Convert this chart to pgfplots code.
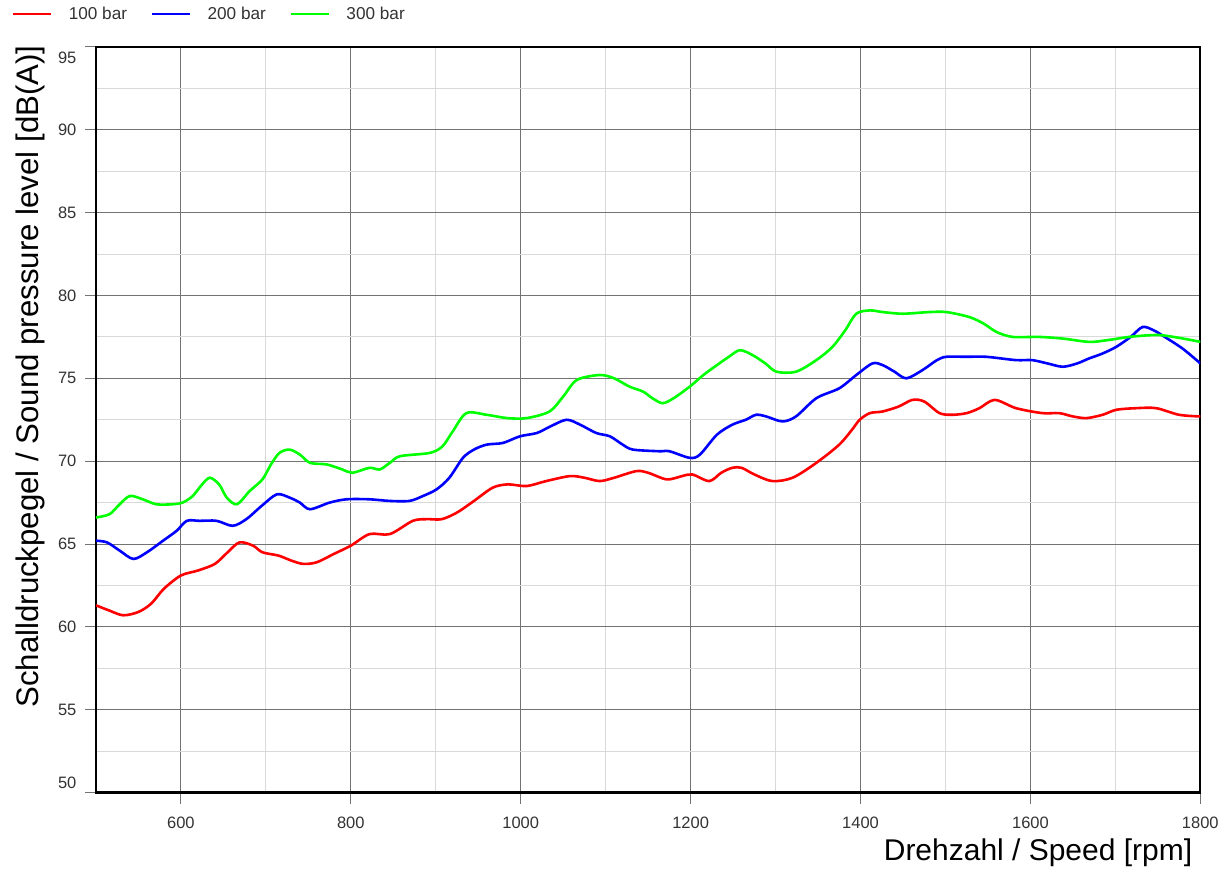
\documentclass[border=0pt]{standalone}
\usepackage{fontspec}
\setmainfont{Liberation Sans}
\usepackage{pgfplots}
\pgfplotsset{compat=1.18}
\begin{document}
\begin{tikzpicture}
\path (-96pt,-76pt) rectangle (1126pt,793pt);
\begin{axis}[
 name=ax, at={(0,0)}, anchor=south west,
 scale only axis, width=1105pt, height=746pt,
 xmin=500, xmax=1800, ymin=50, ymax=95,
 xtick={600,800,...,1800},
 minor xtick={700,900,...,1700},
 ytick={50,55,...,95},
 minor ytick={52.5,57.5,...,92.5},
 yticklabels={\raisebox{10pt}[\height][\depth]{50},55,60,65,70,75,80,85,90,\raisebox{-11pt}[\height][\depth]{95}},
 grid=both,
 major grid style={black!55, line width=1pt},
 minor grid style={black!15, line width=1pt},
 axis line style={line width=2.2pt, black},
 tick pos=left, tick align=outside, major tick length=11pt, minor tick length=0pt,
 major tick style={black!55, line width=1pt},
 /pgf/number format/assume math mode=true,
 /pgf/number format/1000 sep={},
 ticklabel style={font=\fontsize{16.5}{18}\selectfont, text=black!80},
 xticklabel style={yshift=-10pt},
 yticklabel style={xshift=-5pt},
 xlabel={Drehzahl / Speed [rpm]},
 ylabel={Schalldruckpegel / Sound pressure level [dB(A)]},
 xlabel style={font=\fontsize{30}{34}\selectfont, at={(axis description cs:0.9928,0)}, anchor=base east, yshift=-68pt, inner sep=0pt},
 ylabel style={font=\fontsize{31.2}{35}\selectfont, at={(axis description cs:-0.0597,0.558)}, anchor=center, inner sep=0pt},
 legend columns=3,
 legend style={draw=none, fill=none, at={(0,1)}, anchor=west, xshift=-84pt, yshift=33pt, inner sep=0pt,
   font=\fontsize{17.2}{20}\selectfont, nodes={inner sep=0pt, text=black!80},
   /tikz/every odd column/.style={column sep=17pt},
   /tikz/every even column/.style={column sep=24pt}},
 legend image code/.code={\draw[#1, line width=1.6pt] (0pt,0pt) -- (38pt,0pt);},
 every axis plot/.append style={line width=2.6pt, smooth, tension=0.5},
]
\addplot[red] coordinates {
(500,61.3)(515,61.0)(532,60.7)(550,60.9)(565,61.4)(580,62.3)(600,63.1)(620,63.4)(640,63.8)(655,64.5)(669,65.1)(685,64.9)(696,64.5)(715,64.3)(730,64.0)(744,63.8)(760,63.9)(780,64.4)(800,64.9)(822,65.6)(846,65.6)(873,66.4)(890,66.5)(907,66.5)(925,66.9)(945,67.6)(967,68.4)(985,68.6)(1007,68.5)(1030,68.8)(1058,69.1)(1075,69.0)(1093,68.8)(1110,69.0)(1136,69.4)(1150,69.3)(1172,68.9)(1190,69.1)(1202,69.2)(1222,68.8)(1236,69.3)(1249,69.6)(1260,69.6)(1275,69.2)(1296,68.8)(1320,69.0)(1348,69.9)(1375,71.0)(1390,71.9)(1399,72.5)(1411,72.9)(1426,73.0)(1445,73.3)(1461,73.7)(1475,73.6)(1493,72.9)(1508,72.8)(1525,72.9)(1540,73.2)(1558,73.7)(1583,73.2)(1614,72.9)(1634,72.9)(1650,72.7)(1666,72.6)(1685,72.8)(1701,73.1)(1725,73.2)(1748,73.2)(1775,72.8)(1800,72.7)
};
\addlegendentry{100 bar}
\addplot[blue] coordinates {
(500,65.2)(513,65.1)(528,64.6)(544,64.1)(560,64.5)(579,65.2)(595,65.8)(607,66.4)(622,66.4)(642,66.4)(661,66.1)(677,66.5)(695,67.3)(713,68.0)(728,67.8)(740,67.5)(752,67.1)(775,67.5)(795,67.7)(822,67.7)(846,67.6)(869,67.6)(885,67.9)(901,68.3)(916,69.0)(932,70.2)(945,70.7)(960,71.0)(979,71.1)(999,71.5)(1019,71.7)(1035,72.1)(1054,72.5)(1070,72.2)(1089,71.7)(1105,71.5)(1120,71.0)(1132,70.7)(1163,70.6)(1175,70.6)(1199,70.2)(1211,70.4)(1231,71.6)(1249,72.2)(1265,72.5)(1277,72.8)(1289,72.7)(1308,72.4)(1324,72.7)(1348,73.8)(1375,74.4)(1395,75.2)(1414,75.9)(1426,75.8)(1440,75.4)(1454,75.0)(1473,75.5)(1490,76.1)(1501,76.3)(1525,76.3)(1548,76.3)(1583,76.1)(1602,76.1)(1620,75.9)(1638,75.7)(1655,75.9)(1669,76.2)(1685,76.5)(1701,76.9)(1718,77.5)(1732,78.1)(1745,77.9)(1755,77.6)(1779,76.8)(1800,75.9)
};
\addlegendentry{200 bar}
\addplot[green] coordinates {
(500,66.6)(516,66.8)(528,67.4)(540,67.9)(555,67.7)(571,67.4)(590,67.4)(602,67.5)(614,67.9)(625,68.6)(634,69.0)(645,68.6)(654,67.8)(666,67.4)(681,68.2)(696,68.9)(706,69.8)(716,70.5)(728,70.7)(740,70.4)(752,69.9)(772,69.8)(790,69.5)(802,69.3)(822,69.6)(834,69.5)(846,69.9)(858,70.3)(893,70.5)(908,70.9)(920,71.8)(936,72.9)(960,72.8)(984,72.6)(1007,72.6)(1034,73.0)(1050,73.9)(1066,74.9)(1093,75.2)(1110,75.0)(1128,74.5)(1144,74.2)(1155,73.8)(1167,73.5)(1180,73.8)(1199,74.5)(1215,75.2)(1231,75.8)(1245,76.3)(1258,76.7)(1273,76.4)(1288,75.9)(1301,75.4)(1324,75.4)(1348,76.1)(1367,76.9)(1382,77.9)(1395,78.9)(1411,79.1)(1426,79.0)(1450,78.9)(1481,79.0)(1501,79.0)(1528,78.7)(1545,78.3)(1560,77.8)(1579,77.5)(1610,77.5)(1638,77.4)(1669,77.2)(1690,77.3)(1716,77.5)(1740,77.6)(1755,77.6)(1780,77.4)(1800,77.2)
};
\addlegendentry{300 bar}
\end{axis}
\end{tikzpicture}
\end{document}
